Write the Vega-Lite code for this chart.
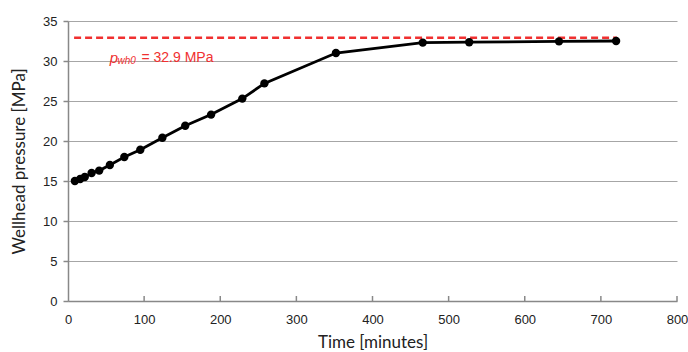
{
  "$schema": "https://vega.github.io/schema/vega-lite/v6.json",
  "width": 609,
  "height": 280,
  "autosize": {"type": "none"},
  "padding": {"left": 68, "top": 21, "right": 11, "bottom": 51},
  "background": "white",
  "config": {
    "view": {"stroke": null},
    "axis": {"labelFont": "Liberation Sans", "labelFontSize": 13, "labelColor": "#222", "titleFont": "Lato", "titleFontSize": 17, "titleFontWeight": "normal", "titleColor": "#222", "domainColor": "#888", "domainWidth": 1.5, "tickColor": "#888", "tickWidth": 1.5, "gridColor": "#a6a6a6", "gridWidth": 1, "labelOverlap": false, "labelBound": false, "labelFlush": false}
  },
  "datasets": {
    "pts": [
      {"t": 9, "p": 15.0},
      {"t": 16, "p": 15.25},
      {"t": 22, "p": 15.5},
      {"t": 31, "p": 16.0},
      {"t": 41, "p": 16.3},
      {"t": 55, "p": 17.0},
      {"t": 74, "p": 18.0},
      {"t": 95, "p": 18.9},
      {"t": 124, "p": 20.4},
      {"t": 154, "p": 21.9},
      {"t": 188, "p": 23.3},
      {"t": 229, "p": 25.3},
      {"t": 258, "p": 27.2},
      {"t": 352, "p": 31.0},
      {"t": 466, "p": 32.3},
      {"t": 527, "p": 32.35},
      {"t": 645, "p": 32.45},
      {"t": 720, "p": 32.5}
    ],
    "ref": [{"t": 8, "t1": 721, "p": 32.9}],
    "xticks": [{"t": 100, "p": 0}, {"t": 200, "p": 0}, {"t": 300, "p": 0}, {"t": 400, "p": 0}, {"t": 500, "p": 0}, {"t": 600, "p": 0}, {"t": 700, "p": 0}, {"t": 800, "p": 0}],
    "lbl": [
      {"t": 55, "p": 30.4, "txt": "p", "part": "a"},
      {"t": 65, "p": 30.0, "txt": "wh0", "part": "b"},
      {"t": 96.5, "p": 30.4, "txt": "= 32.9 MPa", "part": "c"}
    ]
  },
  "encoding": {
    "x": {"field": "t", "type": "quantitative", "scale": {"domain": [0, 800]},
      "axis": {"title": "Time [minutes]", "values": [0,100,200,300,400,500,600,700,800], "grid": false, "ticks": false, "labelPadding": 12, "titlePadding": 8}},
    "y": {"field": "p", "type": "quantitative", "scale": {"domain": [0, 35]},
      "axis": {"title": "Wellhead pressure [MPa]", "values": [0,5,10,15,20,25,30,35], "tickCount": 8, "grid": true, "tickSize": 5, "labelPadding": 6, "titlePadding": 14}}
  },
  "layer": [
    {
      "data": {"name": "ref"},
      "mark": {"type": "rule", "color": "#f03030", "strokeWidth": 2.5, "strokeDash": [7, 4]},
      "encoding": {"x2": {"field": "t1"}}
    },
    {
      "data": {"name": "xticks"},
      "mark": {"type": "tick", "orient": "vertical", "color": "#888", "thickness": 1.5, "size": 5, "yOffset": -2.5, "opacity": 1}
    },
    {
      "data": {"name": "pts"},
      "mark": {"type": "line", "color": "black", "strokeWidth": 2.8}
    },
    {
      "data": {"name": "pts"},
      "mark": {"type": "point", "filled": true, "color": "black", "opacity": 1, "size": 70}
    },
    {
      "data": {"name": "lbl"},
      "transform": [{"filter": "datum.part == 'a'"}],
      "mark": {"type": "text", "font": "Liberation Sans", "fontStyle": "italic", "fontSize": 15, "color": "#f03030", "align": "left", "baseline": "middle"},
      "encoding": {"text": {"field": "txt"}}
    },
    {
      "data": {"name": "lbl"},
      "transform": [{"filter": "datum.part == 'b'"}],
      "mark": {"type": "text", "font": "Liberation Sans", "fontStyle": "italic", "fontSize": 10, "color": "#f03030", "align": "left", "baseline": "middle"},
      "encoding": {"text": {"field": "txt"}}
    },
    {
      "data": {"name": "lbl"},
      "transform": [{"filter": "datum.part == 'c'"}],
      "mark": {"type": "text", "font": "Liberation Sans", "fontSize": 14, "color": "#f03030", "align": "left", "baseline": "middle"},
      "encoding": {"text": {"field": "txt"}}
    }
  ]
}
